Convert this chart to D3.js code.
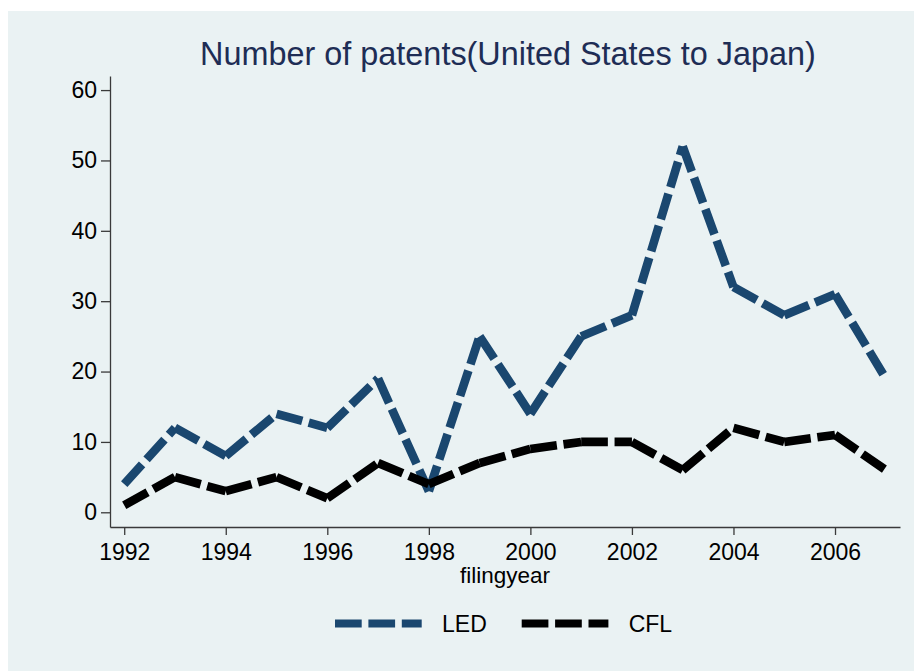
<!DOCTYPE html>
<html>
<head>
<meta charset="utf-8">
<script src="https://cdn.jsdelivr.net/npm/d3@7"></script>
<style>
  body { margin: 0; background: #fff; }
  svg { display: block; font-family: "Liberation Sans", Arial, sans-serif; }
</style>
</head>
<body>
<div id="chart"></div>
<script>
const width = 914;
const height = 671;

// data
const years = [1992, 1993, 1994, 1995, 1996, 1997, 1998, 1999, 2000, 2001, 2002, 2003, 2004, 2005, 2006, 2007];
const led = [4, 12, 8, 14, 12, 19, 3, 25, 14, 25, 28, 52, 32, 28, 31, 19];
const cfl = [1, 5, 3, 5, 2, 7, 4, 7, 9, 10, 10, 6, 12, 10, 11, 6];
const yTicks = [0, 10, 20, 30, 40, 50, 60];
const xTicks = [1992, 1994, 1996, 1998, 2000, 2002, 2004, 2006];
const seriesNames = ["LED", "CFL"];
const seriesColors = ["#1a476f", "#000000"];

const bg = "#eaf2f3";
const axisColor = "#3a3a3a";
const dash = "26.7,6.7";
const lineWidth = 8.6;

const svg = d3.select("#chart").append("svg")
  .attr("width", width)
  .attr("height", height);

// graph region
svg.append("rect")
  .attr("x", 8).attr("y", 11)
  .attr("width", width - 8).attr("height", height - 11)
  .attr("fill", bg);

const x = d3.scaleLinear()
  .domain([1991.72, 2007.28])
  .range([110, 900]);

const y = d3.scaleLinear()
  .domain([-2.09, 62])
  .range([527, 76]);

// title
svg.append("text")
  .attr("x", 508)
  .attr("y", 65)
  .attr("text-anchor", "middle")
  .attr("fill", "#1e2d55")
  .style("font-size", "32.4px")
  .text("Number of patents(United States to Japan)");

// y axis
const yAxis = svg.append("g")
  .attr("transform", "translate(110,0)")
  .call(d3.axisLeft(y).tickValues(yTicks).tickSize(9).tickSizeOuter(0).tickPadding(4));

// x axis
const xAxis = svg.append("g")
  .attr("transform", "translate(0,527)")
  .call(d3.axisBottom(x).tickValues(xTicks).tickFormat(d3.format("d")).tickSize(8).tickSizeOuter(0).tickPadding(4));

[yAxis, xAxis].forEach(ax => {
  ax.select(".domain").attr("stroke", axisColor).attr("stroke-width", 1.3);
  ax.selectAll(".tick line").attr("stroke", axisColor).attr("stroke-width", 1.3);
  ax.selectAll(".tick text")
    .attr("fill", "#000")
    .style("font-size", "23px")
    .style("font-family", "'Liberation Sans', Arial, sans-serif");
});
xAxis.selectAll(".tick text").attr("dy", "0.9em");

svg.append("text")
  .attr("x", 505)
  .attr("y", 583)
  .attr("text-anchor", "middle")
  .attr("fill", "#000")
  .style("font-size", "22.5px")
  .text("filingyear");

// lines: Stata restarts the dash pattern at every vertex, so draw segment by segment
const line = d3.line()
  .x(d => x(d[0]))
  .y(d => y(d[1]));

const series = [led, cfl];
series.forEach((vals, si) => {
  const pts = years.map((yr, i) => [yr, vals[i]]);
  svg.append("g")
    .selectAll("path")
    .data(d3.pairs(pts))
    .enter().append("path")
    .attr("d", d => line(d))
    .attr("fill", "none")
    .attr("stroke", seriesColors[si])
    .attr("stroke-width", lineWidth)
    .attr("stroke-linecap", "butt")
    .attr("stroke-dasharray", dash);
});

// legend
const legendX = [335, 521.7];
const legend = svg.append("g");
seriesNames.forEach((name, i) => {
  legend.append("line")
    .attr("x1", legendX[i]).attr("x2", legendX[i] + 86.7)
    .attr("y1", 623.5).attr("y2", 623.5)
    .attr("stroke", seriesColors[i])
    .attr("stroke-width", 8)
    .attr("stroke-dasharray", dash);
  legend.append("text")
    .attr("x", legendX[i] + 107)
    .attr("y", 623.5)
    .attr("dy", "0.36em")
    .attr("fill", "#000")
    .style("font-size", "23px")
    .text(name);
});
</script>
</body>
</html>
